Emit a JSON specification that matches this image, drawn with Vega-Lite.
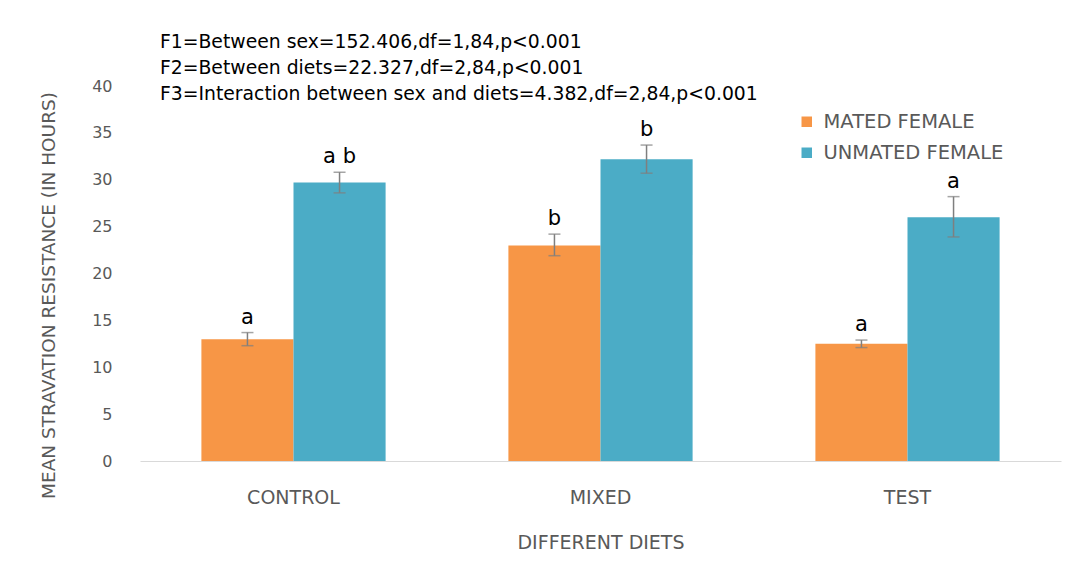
{
  "$schema": "https://vega.github.io/schema/vega-lite/v6.json",
  "autosize": "none",
  "width": 921,
  "height": 375,
  "padding": {"left": 140, "top": 86, "right": 16, "bottom": 116},
  "background": "white",
  "config": {
    "font": "DejaVu Sans",
    "view": {"stroke": null}
  },
  "title": {
    "text": ["F1=Between sex=152.406,df=1,84,p<0.001", "F2=Between diets=22.327,df=2,84,p<0.001", "F3=Interaction between sex and diets=4.382,df=2,84,p<0.001"],
    "anchor": "start",
    "frame": "group",
    "dx": 20,
    "offset": -26,
    "fontSize": 18.8,
    "fontWeight": "normal",
    "lineHeight": 26,
    "color": "black",
    "font": "DejaVu Sans"
  },
  "data": {
    "values": [
      {"diet": "CONTROL", "sex": "MATED FEMALE", "mean": 13.0, "lo": 12.3, "hi": 13.7, "letter": "a"},
      {"diet": "CONTROL", "sex": "UNMATED FEMALE", "mean": 29.7, "lo": 28.6, "hi": 30.8, "letter": "a b"},
      {"diet": "MIXED", "sex": "MATED FEMALE", "mean": 23.0, "lo": 21.9, "hi": 24.2, "letter": "b"},
      {"diet": "MIXED", "sex": "UNMATED FEMALE", "mean": 32.2, "lo": 30.7, "hi": 33.7, "letter": "b"},
      {"diet": "TEST", "sex": "MATED FEMALE", "mean": 12.5, "lo": 12.1, "hi": 12.9, "letter": "a"},
      {"diet": "TEST", "sex": "UNMATED FEMALE", "mean": 26.0, "lo": 23.9, "hi": 28.2, "letter": "a"}
    ]
  },
  "encoding": {
    "x": {
      "field": "diet",
      "type": "nominal",
      "sort": ["CONTROL", "MIXED", "TEST"],
      "scale": {"paddingInner": 0.4, "paddingOuter": 0.2},
      "axis": {
        "title": "DIFFERENT DIETS",
        "labelAngle": 0,
        "labelFontSize": 19,
        "labelColor": "#595959",
        "labelPadding": 27,
        "ticks": false,
        "domainColor": "#d9d9d9",
        "domainWidth": 1,
        "titleFontSize": 19,
        "titleFontWeight": "normal",
        "titleColor": "#595959",
        "titlePadding": 26
      }
    },
    "xOffset": {"field": "sex", "type": "nominal", "sort": ["MATED FEMALE", "UNMATED FEMALE"], "scale": {"paddingInner": 0, "paddingOuter": 0}}
  },
  "layer": [
    {
      "mark": {"type": "bar"},
      "encoding": {
        "y": {
          "field": "mean",
          "type": "quantitative",
          "title": "MEAN STRAVATION RESISTANCE (IN HOURS)",
          "scale": {"domain": [0, 40]},
          "axis": {
            "values": [0, 5, 10, 15, 20, 25, 30, 35, 40],
            "grid": false,
            "ticks": false,
            "domain": false,
            "labelFontSize": 16,
            "labelColor": "#595959",
            "labelPadding": 28,
            "titleFontSize": 18.5,
            "titleFontWeight": "normal",
            "titleColor": "#595959",
            "titleX": -86,
            "titleY": 209,
            "titleBaseline": "alphabetic"
          }
        },
        "color": {
          "field": "sex",
          "type": "nominal",
          "scale": {"domain": ["MATED FEMALE", "UNMATED FEMALE"], "range": ["#F79646", "#4BACC6"]},
          "legend": {
            "title": null,
            "orient": "none",
            "legendX": 657,
            "legendY": 26,
            "symbolType": "square",
            "symbolSize": 110,
            "symbolStrokeWidth": 0,
            "labelFontSize": 19.5,
            "labelColor": "#595959",
            "labelLimit": 400,
            "rowPadding": 10,
            "labelOffset": 7
          }
        }
      }
    },
    {
      "mark": {"type": "errorbar", "color": "#7f7f7f", "thickness": 1.5, "ticks": {"size": 12, "thickness": 1.5, "color": "#7f7f7f"}},
      "encoding": {
        "y": {"field": "lo", "type": "quantitative", "title": "MEAN STRAVATION RESISTANCE (IN HOURS)"},
        "y2": {"field": "hi"}
      }
    },
    {
      "mark": {"type": "text", "fontSize": 21, "color": "black", "dy": -15, "baseline": "middle"},
      "encoding": {
        "y": {"field": "hi", "type": "quantitative", "title": "MEAN STRAVATION RESISTANCE (IN HOURS)"},
        "text": {"field": "letter"}
      }
    }
  ]
}
